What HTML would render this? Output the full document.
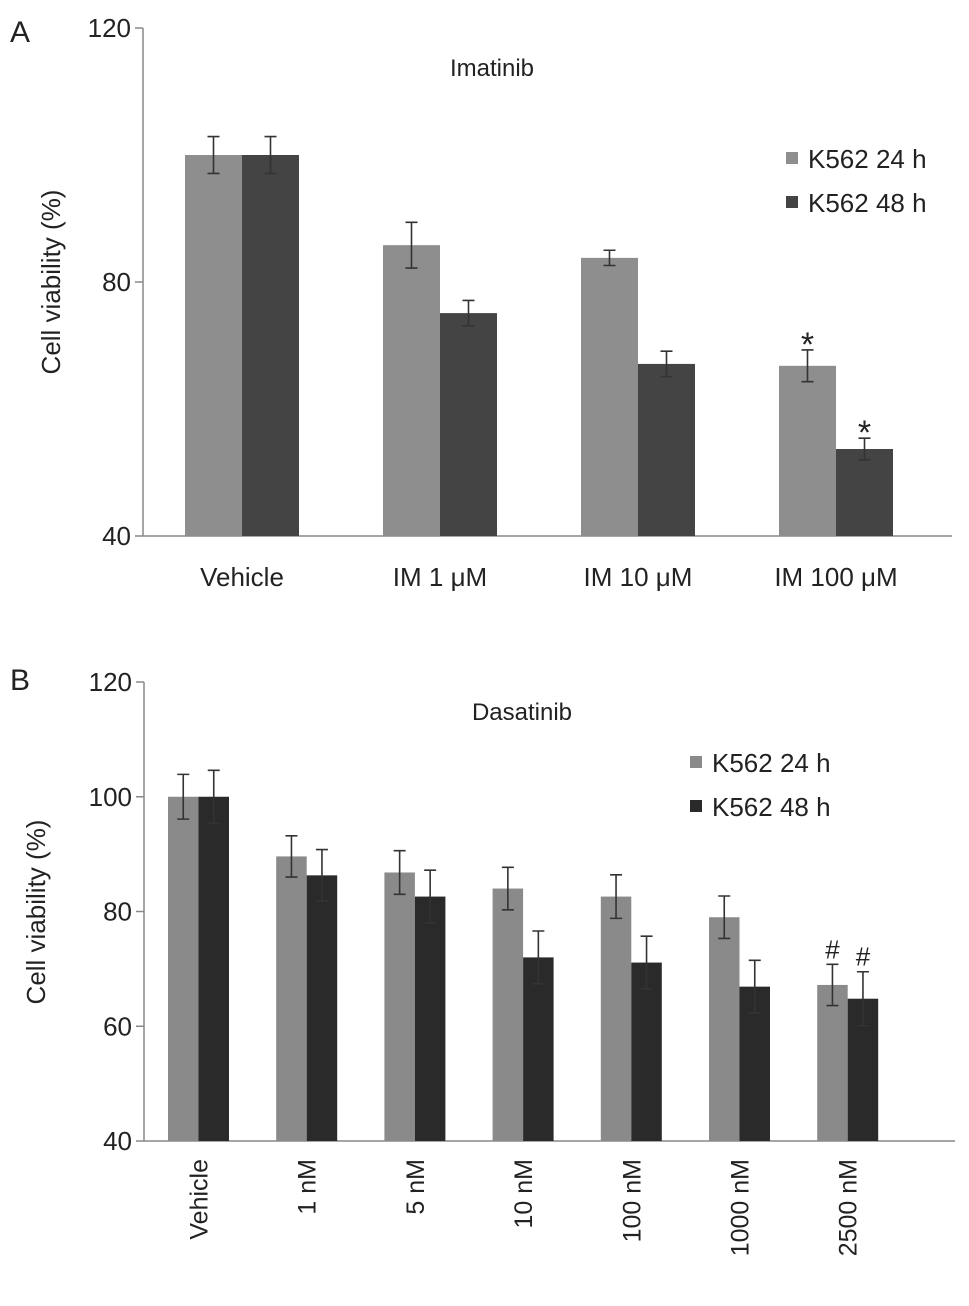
<!DOCTYPE html>
<html><head><meta charset="utf-8"><style>
body{margin:0;background:#fff}
svg text{font-family:"Liberation Sans",sans-serif;fill:#222}
</style></head><body>
<svg id="s" width="969" height="1301" xmlns="http://www.w3.org/2000/svg">
<text x="10" y="42" font-size="30">A</text>
<text x="10" y="690" font-size="30">B</text>
<text x="492" y="76" font-size="24" text-anchor="middle">Imatinib</text>
<text x="522" y="720" font-size="24" text-anchor="middle">Dasatinib</text>
<text transform="translate(60,282) rotate(-90)" font-size="26" text-anchor="middle">Cell viability (%)</text>
<text transform="translate(45,912) rotate(-90)" font-size="26" text-anchor="middle">Cell viability (%)</text>
<g id="ga"></g>
<g id="gb"></g>
</svg>
<script>
const catsA=["Vehicle","IM 1 \u03bcM","IM 10 \u03bcM","IM 100 \u03bcM"];
const a24=[100,85.8,83.8,66.8];
const a48=[100,75.1,67.1,53.7];
const a24err=[2.9,3.6,1.2,2.5];
const a48err=[2.9,2,2,1.7];
const a24mark=["","","","*"];
const a48mark=["","","","*"];
const ticksA=[40,80,120];
const catsB=["Vehicle","1 nM","5 nM","10 nM","100 nM","1000 nM","2500 nM"];
const b24=[100,89.6,86.8,84,82.6,79,67.2];
const b48=[100,86.3,82.6,72,71.1,66.9,64.8];
const b24err=[3.9,3.6,3.8,3.7,3.8,3.7,3.6];
const b48err=[4.6,4.5,4.6,4.6,4.6,4.6,4.7];
const b24mark=["","","","","","","#"];
const b48mark=["","","","","","","#"];
const ticksB=[40,60,80,100,120];
const NS="http://www.w3.org/2000/svg";
function mk(p,t,at){const e=document.createElementNS(NS,t);for(const k in at)e.setAttribute(k,at[k]);p.appendChild(e);return e;}
function draw(g,o){
  const y=v=>o.y0-(v-o.vmin)/(o.vmax-o.vmin)*(o.y0-o.y1);
  const ax=mk(g,'line',{x1:o.ax,y1:o.y1,x2:o.ax,y2:o.y0,stroke:'#888','stroke-width':1.5});
  
  
  const bx=mk(g,'line',{x1:o.ax,y1:o.y0,x2:o.xend,y2:o.y0,stroke:'#888','stroke-width':1.5});
  
  
  o.ticks.forEach(t=>{
    const l=mk(g,'line',{x1:o.ax-8,y1:y(t),x2:o.ax,y2:y(t),stroke:'#888','stroke-width':1.5});
    
    
    const tx=mk(g,'text',{x:o.ax-12,y:y(t)+9,'font-size':26,'text-anchor':'end'});tx.textContent=t;
    
    
  });
  o.cats.forEach((c,i)=>{
    const cx=o.c0+i*o.step;
    [[o.s1,o.e1,o.m1,o.col1,-1,'24h'],[o.s2,o.e2,o.m2,o.col2,0,'48h']].forEach(([s,e,m,col,off,nm])=>{
      const x=cx+off*o.bw, top=y(s[i]);
      const r=mk(g,'rect',{x:x,y:top,width:o.bw,height:o.y0-top,fill:col});
      
      
      const mx=x+o.bw/2, ya=y(s[i]+e[i]), yb=y(s[i]-e[i]);
      const eb=mk(g,'path',{d:`M${mx},${ya}V${yb}M${mx-6},${ya}H${mx+6}M${mx-6},${yb}H${mx+6}`,stroke:'#333','stroke-width':1.6,fill:'none'});
      
      
      if(m[i]){const t=mk(g,'text',{x:mx,y:ya-(m[i]=='*'?-6:6),'font-size':m[i]=='*'?34:26,'text-anchor':'middle'});t.textContent=m[i];
        
        }
    });
    let t;
    if(o.rot){t=mk(g,'text',{transform:`translate(${cx+9},${o.y0+18}) rotate(-90)`,'font-size':25,'text-anchor':'end'});}
    else{t=mk(g,'text',{x:cx,y:o.y0+50,'font-size':26,'text-anchor':'middle'});}
    t.textContent=c;
    
    
  });
  o.leg.forEach((L,i)=>{
    const r=mk(g,'rect',{x:o.lx,y:o.ly+i*o.lstep-8,width:12,height:12,fill:L[1]});
    
    
    const t=mk(g,'text',{x:o.lx+22,y:o.ly+i*o.lstep+8,'font-size':26});t.textContent=L[0];
    
    
  });
}
draw(document.getElementById('ga'),{y0:536,y1:28,vmin:40,vmax:120,ax:143,xend:952,ticks:ticksA,cats:catsA,c0:242,step:198,bw:57,
  s1:a24,s2:a48,e1:a24err,e2:a48err,m1:a24mark,m2:a48mark,col1:'#8e8e8e',col2:'#444',rot:false,
  leg:[["K562 24 h",'#8e8e8e'],["K562 48 h",'#444']],lx:786,ly:160,lstep:44});
draw(document.getElementById('gb'),{y0:1141,y1:682,vmin:40,vmax:120,ax:144,xend:955,ticks:ticksB,cats:catsB,c0:198.5,step:108.2,bw:30.5,
  s1:b24,s2:b48,e1:b24err,e2:b48err,m1:b24mark,m2:b48mark,col1:'#8a8a8a',col2:'#2a2a2a',rot:true,
  leg:[["K562 24 h",'#8a8a8a'],["K562 48 h",'#2a2a2a']],lx:690,ly:764,lstep:44});
</script>
</body></html>
